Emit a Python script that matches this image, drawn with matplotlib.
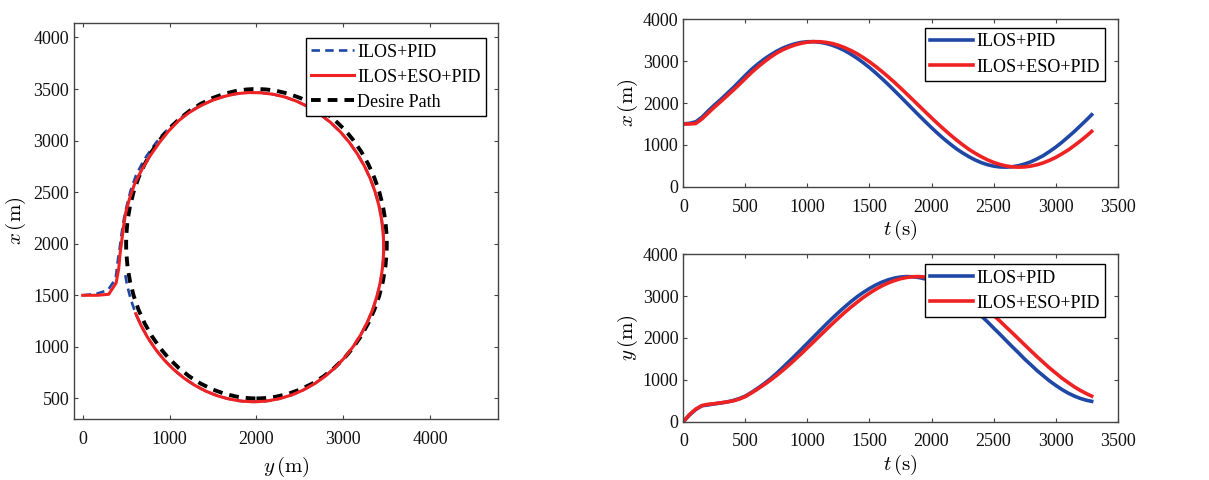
import numpy as np
import matplotlib
matplotlib.use("Agg")
import matplotlib.pyplot as plt
from matplotlib.patches import Circle
from matplotlib.lines import Line2D


# ---------------- DATA ---------------- #

t = [0, 50, 100, 150, 200, 250, 300, 350, 400, 450,
     500, 550, 600, 650, 700, 750, 800, 850, 900, 950,
     1000, 1050, 1100, 1150, 1200, 1250, 1300, 1350, 1400, 1450,
     1500, 1550, 1600, 1650, 1700, 1750, 1800, 1850, 1900, 1950,
     2000, 2050, 2100, 2150, 2200, 2250, 2300, 2350, 2400, 2450,
     2500, 2550, 2600, 2650, 2700, 2750, 2800, 2850, 2900, 2950,
     3000, 3050, 3100, 3150, 3200, 3250, 3290]

# ILOS+PID
pid_x = [1500, 1515, 1550, 1660, 1810, 1950, 2080, 2220, 2360, 2510,
         2660, 2805, 2930, 3045, 3145, 3235, 3310, 3369, 3416, 3448,
         3464, 3466, 3452, 3424, 3380, 3323, 3252, 3166, 3070, 2963,
         2846, 2719, 2584, 2444, 2298, 2150, 2000, 1849, 1700, 1553,
         1410, 1272, 1141, 1021, 906, 808, 719, 641, 576, 527,
         492, 472, 467, 477, 502, 542, 595, 665, 743, 840,
         944, 1061, 1188, 1318, 1459, 1601, 1720]
pid_y = [0, 160, 290, 380, 400, 425, 445, 470, 505, 550,
         612, 700, 800, 905, 1020, 1150, 1290, 1433, 1577, 1725,
         1875, 2025, 2175, 2324, 2468, 2607, 2739, 2866, 2982, 3087,
         3180, 3263, 3332, 3387, 3428, 3454, 3465, 3460, 3441, 3407,
         3358, 3294, 3217, 3129, 3025, 2917, 2796, 2666, 2527, 2387,
         2237, 2091, 1940, 1790, 1646, 1495, 1359, 1220, 1097, 975,
         868, 769, 683, 612, 554, 510, 486]

# ILOS+ESO+PID
eso_x = [1500, 1500, 1510, 1620, 1760, 1900, 2030, 2165, 2300, 2440,
         2585, 2730, 2860, 2980, 3090, 3190, 3270, 3334, 3388, 3427,
         3454, 3466, 3464, 3449, 3421, 3378, 3323, 3255, 3177, 3085,
         2984, 2872, 2754, 2628, 2497, 2359, 2217, 2075, 1931, 1787,
         1645, 1506, 1371, 1242, 1118, 1004, 895, 802, 718, 643,
         581, 533, 497, 475, 467, 473, 493, 525, 570, 630,
         699, 785, 875, 983, 1096, 1217, 1322]
eso_y = [0, 170, 300, 385, 415, 430, 450, 470, 495, 540,
         600, 688, 782, 882, 986, 1100, 1222, 1348, 1484, 1622,
         1764, 1907, 2051, 2195, 2336, 2474, 2608, 2734, 2852, 2966,
         3068, 3161, 3242, 3312, 3368, 3413, 3444, 3461, 3465, 3454,
         3430, 3392, 3342, 3278, 3201, 3115, 3014, 2910, 2795, 2670,
         2538, 2405, 2262, 2123, 1979, 1835, 1692, 1552, 1418, 1284,
         1163, 1041, 936, 833, 744, 666, 611]

# desired circular path
path_center = (2000, 2000)
path_radius = 1500

labels = ["ILOS+PID", "ILOS+ESO+PID", "Desire Path"]

# ---------------- STYLE ---------------- #

plt.rcParams['font.family'] = ['Liberation Serif', 'DejaVu Serif']
plt.rcParams['mathtext.fontset'] = 'cm'
plt.rcParams['font.size'] = 13
plt.rcParams['axes.edgecolor'] = '#444444'
plt.rcParams['axes.linewidth'] = 1.0
plt.rcParams['xtick.direction'] = 'in'
plt.rcParams['ytick.direction'] = 'in'
plt.rcParams['xtick.major.size'] = 3
plt.rcParams['ytick.major.size'] = 3
plt.rcParams['xtick.major.pad'] = 8.5
plt.rcParams['xtick.color'] = '#444444'
plt.rcParams['ytick.color'] = '#444444'
plt.rcParams['xtick.labelcolor'] = '#111111'
plt.rcParams['ytick.labelcolor'] = '#111111'

blue = '#1f48a6'
red = '#ee2222'

fig = plt.figure(figsize=(12.09, 4.8), dpi=100)
ax1 = fig.add_axes([0.0612, 0.127, 0.3507, 0.825])
ax2 = fig.add_axes([0.5652, 0.611, 0.3593, 0.3488])
ax3 = fig.add_axes([0.5652, 0.1215, 0.3593, 0.349])

leg_kw = dict(fancybox=False, edgecolor='k', framealpha=1, borderaxespad=0,
              handlelength=2.4, handletextpad=0.15, borderpad=0.3,
              labelspacing=0.45, fontsize=13)

# ---------------- LEFT: trajectory ---------------- #

ax1.plot(pid_y, pid_x, color=blue, lw=1.9, dashes=(3.2, 2.0), zorder=3)
ax1.add_patch(Circle(path_center, path_radius, fill=False, ec='k', lw=2.8,
                     ls=(0, (2.5, 1.8)), zorder=4))
ax1.plot(eso_y, eso_x, color=red, lw=2.2, zorder=5)
ax1.set_xlim(-100, 4780)
ax1.set_ylim(300, 4140)
ax1.set_xticks([0, 1000, 2000, 3000, 4000])
ax1.set_yticks([500, 1000, 1500, 2000, 2500, 3000, 3500, 4000])
ax1.set_xlabel(r'$y\,(\mathrm{m})$', fontsize=15, labelpad=5)
ax1.set_ylabel(r'$x\,(\mathrm{m})$', fontsize=15, labelpad=4)
ax1.tick_params(top=True, right=True)

handles = [Line2D([], [], color=blue, lw=1.9, dashes=(3.2, 2.0)),
           Line2D([], [], color=red, lw=2.2),
           Line2D([], [], color='k', lw=2.8, dashes=(2.5, 1.8))]
ax1.legend(handles, labels, loc='upper right', bbox_to_anchor=(0.972, 0.962),
           **leg_kw)

# ---------------- RIGHT: time series ---------------- #

for ax, a, b, name in [(ax2, pid_x, eso_x, 'x'), (ax3, pid_y, eso_y, 'y')]:
    ax.plot(t, a, color=blue, lw=2.6, label=labels[0])
    ax.plot(t, b, color=red, lw=2.6, label=labels[1])
    ax.set_xlim(0, 3500)
    ax.set_ylim(0, 4000)
    ax.set_xticks(np.arange(0, 3501, 500))
    ax.set_yticks(np.arange(0, 4001, 1000))
    ax.set_xlabel(r'$t\,(\mathrm{s})$', fontsize=15, labelpad=2)
    ax.set_ylabel(r'$%s\,(\mathrm{m})$' % name, fontsize=15, labelpad=2)
    ax.tick_params(top=True, right=True)

ax2.legend(loc='upper right', bbox_to_anchor=(0.9708, 0.948), **leg_kw)
ax3.legend(loc='upper right', bbox_to_anchor=(0.9708, 0.940), **leg_kw)

fig.savefig("out.png", dpi=100)
